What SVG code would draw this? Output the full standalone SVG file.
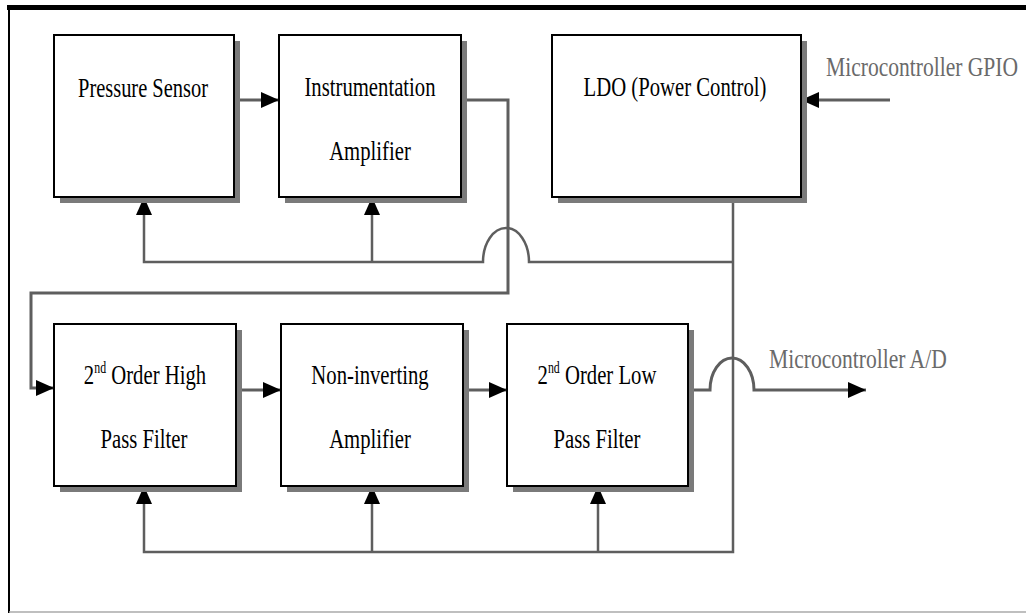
<svg xmlns="http://www.w3.org/2000/svg" width="1026" height="613" viewBox="0 0 1026 613">
<style>
.box rect.b{fill:#fff;stroke:#000;stroke-width:2}
.box rect.s{fill:#7a7a7a}
.t{font-family:"Liberation Serif","Times New Roman",serif;font-size:28px;fill:#000;text-anchor:middle}
.g{fill:#6a6a6a;text-anchor:start}
.sig{fill:none;stroke:#5e5e5e;stroke-width:3}
.pwr{fill:none;stroke:#5e5e5e;stroke-width:2.5}
</style>
<defs>
<marker id="ah" markerUnits="userSpaceOnUse" markerWidth="18" markerHeight="16" refX="18" refY="8" orient="auto" viewBox="0 0 18 16">
<path d="M0,0 L18,8 L0,16 z" fill="#000"/>
</marker>
</defs>
<rect width="1026" height="613" fill="#fff"/>
<g id="frame">
<rect x="7" y="5" width="1019" height="5" fill="#000"/>
<line x1="9" y1="8" x2="9" y2="613" stroke="#000" stroke-width="2"/>
<line x1="9" y1="612" x2="1026" y2="612" stroke="#aaa" stroke-width="1.5"/>
</g>
<g id="connectors">
<path class="sig" d="M234,100 H279" marker-end="url(#ah)"/>
<path class="sig" d="M461,100 H508 V293 H31 V388 H54" marker-end="url(#ah)"/>
<path class="sig" d="M890,100 H801" marker-end="url(#ah)"/>
<path class="pwr" d="M733,197 V552 H144 V486" marker-end="url(#ah)"/>
<path class="pwr" d="M372,552 V486" marker-end="url(#ah)"/>
<path class="pwr" d="M598,552 V486" marker-end="url(#ah)"/>
<path class="pwr" d="M733,262 H529 A23,34 0 0 0 483,262 H144 V197" marker-end="url(#ah)"/>
<path class="pwr" d="M372,262 V197" marker-end="url(#ah)"/>
<path class="sig" d="M236,390 H281" marker-end="url(#ah)"/>
<path class="sig" d="M463,390 H507" marker-end="url(#ah)"/>
<path class="sig" d="M688,390 H710 A22,32 0 0 1 754,390 H866" marker-end="url(#ah)"/>
</g>
<g id="pressure" class="box">
<rect class="s" x="60" y="41" width="180" height="162"/>
<rect class="b" x="54" y="35" width="180" height="162"/>
<text class="t" transform="translate(143,97) scale(0.73,1)">Pressure Sensor</text>
</g>
<g id="instr" class="box">
<rect class="s" x="285" y="41" width="182" height="162"/>
<rect class="b" x="279" y="35" width="182" height="162"/>
<text class="t" transform="translate(370,96) scale(0.74,1)">Instrumentation</text>
<text class="t" transform="translate(370,160) scale(0.74,1)">Amplifier</text>
</g>
<g id="ldo" class="box">
<rect class="s" x="558" y="41" width="249" height="162"/>
<rect class="b" x="552" y="35" width="249" height="162"/>
<text class="t" transform="translate(675,96) scale(0.74,1)">LDO (Power Control)</text>
</g>
<g id="gpio">
<text class="t g" transform="translate(826,76) scale(0.77,1)">Microcontroller GPIO</text>
</g>
<g id="hpf" class="box">
<rect class="s" x="60" y="330" width="182" height="162"/>
<rect class="b" x="54" y="324" width="182" height="162"/>
<text class="t" transform="translate(145,384) scale(0.74,1)">2<tspan font-size="16" dy="-11">nd</tspan><tspan dy="11"> Order High</tspan></text>
<text class="t" transform="translate(144,448) scale(0.74,1)">Pass Filter</text>
</g>
<g id="noninv" class="box">
<rect class="s" x="287" y="330" width="182" height="162"/>
<rect class="b" x="281" y="324" width="182" height="162"/>
<text class="t" transform="translate(370,384) scale(0.74,1)">Non-inverting</text>
<text class="t" transform="translate(370,448) scale(0.74,1)">Amplifier</text>
</g>
<g id="lpf" class="box">
<rect class="s" x="513" y="330" width="181" height="162"/>
<rect class="b" x="507" y="324" width="181" height="162"/>
<text class="t" transform="translate(597,384) scale(0.74,1)">2<tspan font-size="16" dy="-11">nd</tspan><tspan dy="11"> Order Low</tspan></text>
<text class="t" transform="translate(597,448) scale(0.74,1)">Pass Filter</text>
</g>
<g id="ad">
<text class="t g" transform="translate(769,368) scale(0.77,1)">Microcontroller A/D</text>
</g>
</svg>
